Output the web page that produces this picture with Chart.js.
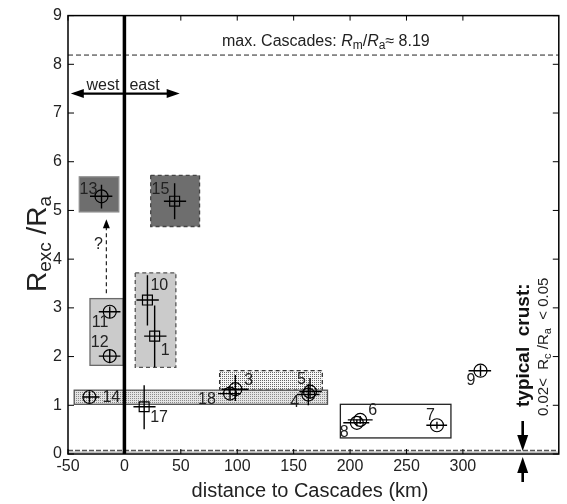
<!DOCTYPE html>
<html>
<head>
<meta charset="utf-8">
<script src="https://cdn.jsdelivr.net/npm/chart.js@4/dist/chart.umd.min.js"></script>
<style>
  html, body { margin: 0; padding: 0; background: #fff; overflow: hidden; }
</style>
</head>
<body>
<canvas id="chart" width="567" height="504"></canvas>
<script>
// --- DATA ---
const ids  = ["1", "3", "4", "5", "6", "7", "8", "9", "10", "11", "12", "13", "14", "15", "17", "18"];
const xVal = [26.8, 98.3, 163, 164.5, 209, 277, 206, 315.6, 20.4, -13, -13, -20.3, -31, 44.5, 17.5, 93.6];
const yVal = [2.42, 1.33, 1.22, 1.28, 0.70, 0.59, 0.64, 1.71, 3.16, 2.92, 2.01, 5.29, 1.17, 5.19, 0.97, 1.24];
const xLo  = [17.5, 86, 153, 155, 198, 267.6, 194, 305, 10.7, -22.7, -22.7, -30.5, -37, 35, 8, 83];
const xHi  = [37.3, 110, 173, 175, 220, 286, 217, 325, 30.5, -3.5, -3.5, -10.7, -22, 54.7, 27.6, 103];
const yLo  = [1.78, 1.09, 1.0, 1.14, 0.62, 0.52, 0.57, 1.60, 2.64, 2.79, 1.88, 5.04, 1.05, 4.82, 0.51, 1.12];
const yHi  = [3.05, 1.62, 1.44, 1.56, 0.78, 0.66, 0.71, 1.82, 3.67, 3.03, 2.14, 5.53, 1.29, 5.56, 1.41, 1.36];
const squareIds = ["1", "10", "15", "17"];

// shaded regions
const boxX0 = [-40, 23.3, -30.5, 9.6, 84.4, -44.5, 191.4];
const boxX1 = [-5, 66.6, -1, 45.6, 175.4, 180, 289.4];
const boxY0 = [4.97, 4.67, 1.82, 1.78, 1.31, 1.02, 0.33];
const boxY1 = [5.69, 5.72, 3.19, 3.72, 1.71, 1.31, 1.02];
const boxKind = ["dark", "darkDashed", "light", "lightDashed", "dotsDashed", "dots", "open"];

const maxCascades = 8.19;
const crustLo = 0.02, crustHi = 0.05;
const xTicksShown = [-50, 0, 50, 100, 150, 200, 250, 300];

// --- STYLE ---
const FONT = "'Liberation Sans', Arial, sans-serif";
const labelOffset = {
  "1": [6, 14], "3": [9, -9], "4": [-18, 8], "5": [-13, -12], "6": [8, -9], "7": [-11, -10],
  "8": [-17, 10], "9": [-14, 10], "10": [3, -14], "11": [-18, 11], "12": [-19, -13],
  "13": [-22, -7], "14": [13, 1], "15": [-23, -12], "17": [6, 11], "18": [-32, 6]
};

const drawRich = (ctx, parts, x, y) => {
  let cx = x;
  parts.forEach(p => {
    ctx.font = p.font;
    ctx.fillText(p.t, cx, y + (p.dy || 0));
    cx += ctx.measureText(p.t).width;
  });
};

const makeDots = (ctx, bg, fg) => {
  const c = document.createElement("canvas");
  c.width = 4; c.height = 4;
  const g = c.getContext("2d");
  g.fillStyle = bg; g.fillRect(0, 0, 4, 4);
  g.fillStyle = fg;
  g.fillRect(0, 0, 1, 1); g.fillRect(2, 2, 1, 1); g.fillRect(2, 0, 1, 1); g.fillRect(0, 2, 1, 1);
  return ctx.createPattern(c, "repeat");
};

const arrowHead = (ctx, x, y, dx, dy, len, half) => {
  // tip at (x,y), pointing along (dx,dy)
  const px = -dy, py = dx;
  ctx.beginPath();
  ctx.moveTo(x, y);
  ctx.lineTo(x - dx * len + px * half, y - dy * len + py * half);
  ctx.lineTo(x - dx * len - px * half, y - dy * len - py * half);
  ctx.closePath();
  ctx.fill();
};

const decorPlugin = {
  id: "decor",
  beforeDatasetsDraw(chart) {
    const { ctx, chartArea: a } = chart;
    const X = v => chart.scales.x.getPixelForValue(v);
    const Y = v => chart.scales.y.getPixelForValue(v);
    const styles = {
      dark: { fill: "#6e6e6e", stroke: "#8c8c8c", dash: [] },
      darkDashed: { fill: "#6e6e6e", stroke: "#444", dash: [4, 3] },
      light: { fill: "#cbcbcb", stroke: "#6a6a6a", dash: [] },
      lightDashed: { fill: "#cbcbcb", stroke: "#555", dash: [4, 3] },
      dots: { fill: makeDots(ctx, "#e4e4e4", "#8a8a8a"), stroke: "#555", dash: [] },
      dotsDashed: { fill: makeDots(ctx, "#f6f6f6", "#666"), stroke: "#333", dash: [4, 3] },
      open: { fill: null, stroke: "#222", dash: [] }
    };
    ctx.save();
    boxKind.forEach((k, i) => {
      const s = styles[k];
      const x0 = X(boxX0[i]), x1 = X(boxX1[i]), y0 = Y(boxY1[i]), y1 = Y(boxY0[i]);
      if (s.fill) { ctx.fillStyle = s.fill; ctx.fillRect(x0, y0, x1 - x0, y1 - y0); }
      ctx.setLineDash(s.dash);
      ctx.lineWidth = 1.3;
      ctx.strokeStyle = s.stroke;
      ctx.strokeRect(x0, y0, x1 - x0, y1 - y0);
    });
    ctx.setLineDash([]);

    // typical crust band
    ctx.fillStyle = "#bdbdbd";
    ctx.fillRect(a.left, Y(crustHi), a.right - a.left, Y(crustLo) - Y(crustHi));
    ctx.strokeStyle = "#555";
    ctx.lineWidth = 1.6;
    ctx.setLineDash([5, 2]);
    ctx.beginPath(); ctx.moveTo(a.left, Y(crustHi) - 1); ctx.lineTo(a.right, Y(crustHi) - 1); ctx.stroke();

    // max Cascades line
    ctx.lineWidth = 1;
    ctx.strokeStyle = "#222";
    ctx.setLineDash([5, 3]);
    ctx.beginPath(); ctx.moveTo(a.left, Y(maxCascades)); ctx.lineTo(a.right, Y(maxCascades)); ctx.stroke();
    ctx.setLineDash([]);

    // Cascades position
    ctx.strokeStyle = "#000";
    ctx.lineWidth = 3.5;
    ctx.beginPath(); ctx.moveTo(X(0), a.top); ctx.lineTo(X(0), a.bottom); ctx.stroke();
    ctx.restore();
  },
  afterDatasetsDraw(chart) {
    const { ctx, chartArea: a } = chart;
    const X = v => chart.scales.x.getPixelForValue(v);
    const Y = v => chart.scales.y.getPixelForValue(v);
    ctx.save();

    // error bars
    ctx.strokeStyle = "#000";
    ctx.lineWidth = 1.4;
    ids.forEach((id, i) => {
      ctx.beginPath();
      ctx.moveTo(X(xLo[i]), Y(yVal[i])); ctx.lineTo(X(xHi[i]), Y(yVal[i]));
      ctx.moveTo(X(xVal[i]), Y(yLo[i])); ctx.lineTo(X(xVal[i]), Y(yHi[i]));
      ctx.stroke();
    });

    // point labels
    ctx.fillStyle = "#222";
    ctx.font = "16px " + FONT;
    ctx.textAlign = "left";
    ctx.textBaseline = "middle";
    ids.forEach((id, i) => {
      const o = labelOffset[id];
      ctx.fillText(id, X(xVal[i]) + o[0], Y(yVal[i]) + o[1]);
    });

    // west / east arrow
    const ay = Y(7.4);
    ctx.fillStyle = "#000";
    ctx.lineWidth = 2.2;
    ctx.beginPath(); ctx.moveTo(X(-44), ay); ctx.lineTo(X(45), ay); ctx.stroke();
    arrowHead(ctx, X(-47.5), ay, -1, 0, 13, 4.5);
    arrowHead(ctx, X(49), ay, 1, 0, 13, 4.5);
    ctx.fillStyle = "#222";
    ctx.textBaseline = "alphabetic";
    ctx.font = "16px " + FONT;
    ctx.textAlign = "right";
    ctx.fillText("west", X(0) - 5, ay - 4);
    ctx.textAlign = "left";
    ctx.fillText("east", X(0) + 5, ay - 4);

    // dashed "?" arrow from 11 up to 13
    ctx.strokeStyle = "#222";
    ctx.fillStyle = "#000";
    ctx.lineWidth = 1.2;
    ctx.setLineDash([4, 3]);
    ctx.beginPath(); ctx.moveTo(X(-16), Y(3.3)); ctx.lineTo(X(-16), Y(4.65)); ctx.stroke();
    ctx.setLineDash([]);
    arrowHead(ctx, X(-16), Y(4.82), 0, -1, 9, 3.5);
    ctx.fillStyle = "#222";
    ctx.textAlign = "center";
    ctx.textBaseline = "middle";
    ctx.fillText("?", X(-23), Y(4.3));

    // max Cascades text
    ctx.textAlign = "left";
    ctx.textBaseline = "alphabetic";
    drawRich(ctx, [
      { t: "max. Cascades: ", font: "16px " + FONT },
      { t: "R", font: "italic 16px " + FONT },
      { t: "m", font: "12px " + FONT, dy: 3 },
      { t: "/", font: "16px " + FONT },
      { t: "R", font: "italic 16px " + FONT },
      { t: "a", font: "12px " + FONT, dy: 3 },
      { t: "\u2248 8.19", font: "16px " + FONT }
    ], 222, 46);

    // typical crust arrows
    const cx = X(353);
    ctx.fillStyle = "#000";
    ctx.strokeStyle = "#000";
    ctx.lineWidth = 2.6;
    ctx.beginPath();
    ctx.moveTo(cx, a.bottom - 33); ctx.lineTo(cx, a.bottom - 12);
    ctx.moveTo(cx, a.bottom + 28); ctx.lineTo(cx, a.bottom + 12);
    ctx.stroke();
    arrowHead(ctx, cx, a.bottom - 3, 0, 1, 16, 5.5);
    arrowHead(ctx, cx, a.bottom + 3, 0, -1, 16, 5.5);

    ctx.save();
    ctx.translate(529, 407);
    ctx.rotate(-Math.PI / 2);
    ctx.fillStyle = "#111";
    ctx.textAlign = "left";
    ctx.font = "bold 19px " + FONT;
    ctx.fillText("typical  crust:", 0, 0);
    ctx.restore();

    ctx.save();
    ctx.translate(548, 416);
    ctx.rotate(-Math.PI / 2);
    ctx.fillStyle = "#222";
    drawRich(ctx, [
      { t: "0.02<  R", font: "15px " + FONT },
      { t: "c", font: "11px " + FONT, dy: 3 },
      { t: " /R", font: "15px " + FONT },
      { t: "a", font: "11px " + FONT, dy: 3 },
      { t: "  < 0.05", font: "15px " + FONT }
    ], 0, 0);
    ctx.restore();

    ctx.restore();
  },
  afterDraw(chart) {
    const { ctx, chartArea: a } = chart;
    const X = v => chart.scales.x.getPixelForValue(v);
    const Y = v => chart.scales.y.getPixelForValue(v);
    ctx.save();
    ctx.strokeStyle = "#000";
    ctx.lineWidth = 1.5;
    ctx.strokeRect(a.left, a.top, a.right - a.left, a.bottom - a.top);

    // inward ticks
    ctx.lineWidth = 1;
    ctx.beginPath();
    for (let v = 0; v <= 9; v++) {
      ctx.moveTo(a.left, Y(v)); ctx.lineTo(a.left + 6, Y(v));
      ctx.moveTo(a.right, Y(v)); ctx.lineTo(a.right - 6, Y(v));
    }
    xTicksShown.forEach(v => {
      ctx.moveTo(X(v), a.bottom); ctx.lineTo(X(v), a.bottom - 5);
      ctx.moveTo(X(v), a.top); ctx.lineTo(X(v), a.top + 5);
    });
    ctx.stroke();

    // axis titles
    ctx.fillStyle = "#222";
    ctx.textAlign = "center";
    ctx.textBaseline = "alphabetic";
    ctx.font = "20px " + FONT;
    ctx.fillText("distance to Cascades (km)", 310, 497);

    ctx.save();
    ctx.translate(46, 292);
    ctx.rotate(-Math.PI / 2);
    ctx.textAlign = "left";
    drawRich(ctx, [
      { t: "R", font: "28px " + FONT },
      { t: "exc", font: "19px " + FONT, dy: 5 },
      { t: " /", font: "28px " + FONT },
      { t: "R", font: "28px " + FONT },
      { t: "a", font: "19px " + FONT, dy: 5 }
    ], 0, 0);
    ctx.restore();
    ctx.restore();
  }
};

const toPoints = keep => ids
  .map((id, i) => ({ id, x: xVal[i], y: yVal[i] }))
  .filter(p => keep(p.id));

new Chart(document.getElementById("chart").getContext("2d"), {
  type: "scatter",
  data: {
    datasets: [
      {
        label: "circles",
        data: toPoints(id => !squareIds.includes(id)),
        pointStyle: "circle",
        pointRadius: 6.5,
        borderColor: "#000",
        borderWidth: 1.2,
        backgroundColor: "rgba(0,0,0,0)"
      },
      {
        label: "squares",
        data: toPoints(id => squareIds.includes(id)),
        pointStyle: "rect",
        pointRadius: 7,
        borderColor: "#000",
        borderWidth: 1.2,
        backgroundColor: "rgba(0,0,0,0)"
      }
    ]
  },
  options: {
    responsive: false,
    animation: false,
    events: [],
    layout: { padding: { top: 15, right: 1, left: 0, bottom: 0 } },
    plugins: { legend: { display: false }, tooltip: { enabled: false } },
    scales: {
      x: {
        type: "linear",
        min: -50,
        max: 385,
        grid: { display: false, drawTicks: false },
        border: { display: false },
        ticks: {
          stepSize: 50,
          includeBounds: false,
          maxRotation: 0,
          padding: 3,
          color: "#222",
          font: { family: FONT, size: 16 },
          callback: v => (xTicksShown.includes(v) ? String(v) : "")
        },
        afterFit: s => { s.height = 50; }
      },
      y: {
        min: 0,
        max: 9,
        grid: { display: false, drawTicks: false },
        border: { display: false },
        ticks: { stepSize: 1, padding: 6, color: "#222", font: { family: FONT, size: 16 } },
        afterFit: s => { s.width = 68; }
      }
    }
  },
  plugins: [decorPlugin]
});
</script>
</body>
</html>
